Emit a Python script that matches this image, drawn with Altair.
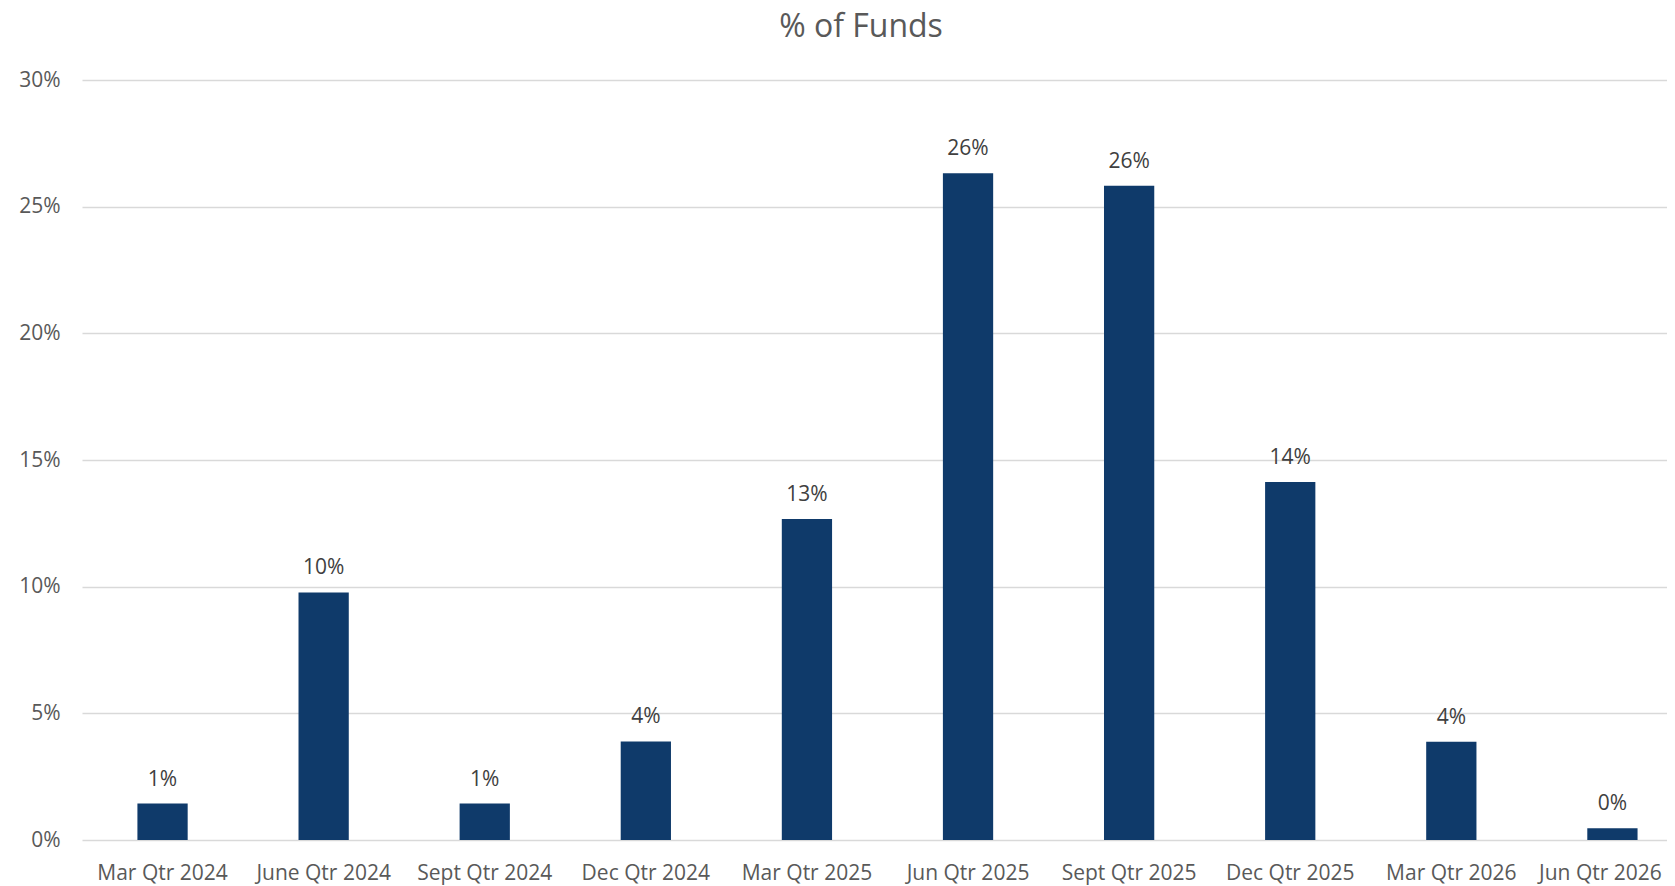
import altair as alt
import pandas as pd

categories = ["Mar Qtr 2024", "June Qtr 2024", "Sept Qtr 2024", "Dec Qtr 2024",
              "Mar Qtr 2025", "Jun Qtr 2025", "Sept Qtr 2025", "Dec Qtr 2025",
              "Mar Qtr 2026", "Jun Qtr 2026"]
values = [0.0144, 0.0977, 0.0144, 0.0389, 0.1267, 0.2632, 0.2583, 0.1413, 0.0388, 0.0046]
y_ticks = [0, 0.05, 0.10, 0.15, 0.20, 0.25, 0.30]
title_text = ["% of Funds"]

df = pd.DataFrame({"quarter": categories, "share": values})
title_df = pd.DataFrame({"t": title_text})

FONT = "Open Sans"
BAR = "#0F3A6A"

x = alt.X("quarter:N", sort=categories, title=None,
          scale=alt.Scale(paddingInner=0.688, paddingOuter=0.2634, align=0.653),
          axis=alt.Axis(labelAngle=0, labelFont=FONT, labelFontSize=21, labelColor="#595959",
                        labelPadding=22, ticks=False, tickSize=0, domain=False, grid=False,
                        labelOffset=alt.expr("datum.label == 'Jun Qtr 2026' ? -12 : 0")))
y = alt.Y("share:Q", title=None,
          scale=alt.Scale(domain=[0, 0.30], nice=False),
          axis=alt.Axis(values=y_ticks, format=".0%", labelFont=FONT, labelFontSize=21,
                        labelColor="#595959", labelPadding=22, ticks=False, tickSize=0,
                        domain=False, grid=True, gridColor="#D9D9D9", gridWidth=1.5))

bars = alt.Chart(df).mark_bar(color=BAR).encode(x=x, y=y)
labels = alt.Chart(df).mark_text(font=FONT, fontSize=21, color="#404040",
                                 baseline="alphabetic", dy=-18).encode(
    x=alt.X("quarter:N", sort=categories),
    y=alt.Y("share:Q"),
    text=alt.Text("share:Q", format=".0%"))
title = alt.Chart(title_df).mark_text(font=FONT, fontSize=32, color="#595959",
                                      baseline="alphabetic", align="center").encode(
    x=alt.value(779), y=alt.value(-43), text="t:N")

chart = alt.layer(bars, labels, title).properties(
    width=1585, height=760,
    autosize=alt.AutoSizeParams(type="none"),
    padding={"left": 74, "top": 72, "right": 0, "bottom": 54},
).configure(background="white").configure_view(stroke=None)

chart.save("out.html", embed_options={"renderer": "svg", "actions": False})
